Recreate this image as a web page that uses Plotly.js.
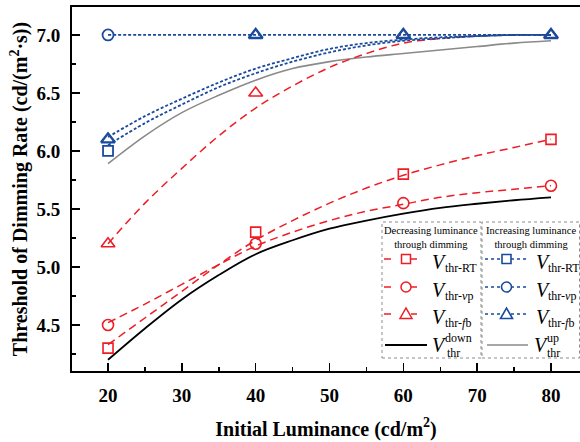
<!DOCTYPE html>
<html>
<head>
<meta charset="utf-8">
<script src="https://cdn.plot.ly/plotly-3.0.1.min.js"></script>
<style>html,body{margin:0;padding:0;background:#fff;}#chart{width:580px;height:442px;}</style>
</head>
<body>
<div id="chart"></div>
<script>
// ---- data ----
const lum = [20, 40, 60, 80];
const decRT = [4.3, 5.3, 5.8, 6.1];
const decVp = [4.5, 5.2, 5.55, 5.7];
const decFb = [5.2, 6.5, 7.0, 7.0];
const incRT = [6.0, null, null, null];   // later points hidden under triangles
const incVp = [7.0, null, null, null];
const incFb = [6.1, 7.0, 7.0, 7.0];

// fitted curves
const fitX      = [20, 25, 30, 35, 40, 45, 50, 55, 60, 65, 70, 75, 80];
const fitDecRT  = [4.33, 4.56, 4.79, 5.02, 5.23, 5.40, 5.55, 5.68, 5.79, 5.88, 5.96, 6.03, 6.10];
const fitDecVp  = [4.52, 4.68, 4.85, 5.02, 5.18, 5.30, 5.40, 5.48, 5.54, 5.60, 5.64, 5.67, 5.70];
const fitDecFb  = [5.20, 5.55, 5.85, 6.13, 6.37, 6.56, 6.72, 6.84, 6.93, 6.97, 6.99, 7.00, 7.00];
const fitIncRT  = [6.05, 6.24, 6.40, 6.55, 6.67, 6.77, 6.85, 6.91, 6.95, 6.97, 6.99, 7.00, 7.00];
const fitIncVp  = [7.00, 7.00, 7.00, 7.00, 7.00, 7.00, 7.00, 7.00, 7.00, 7.00, 7.00, 7.00, 7.00];
const fitIncFb  = [6.12, 6.30, 6.45, 6.59, 6.71, 6.80, 6.88, 6.93, 6.96, 6.98, 6.99, 7.00, 7.00];
const fitDown   = [4.20, 4.47, 4.72, 4.93, 5.11, 5.23, 5.33, 5.40, 5.46, 5.51, 5.545, 5.575, 5.60];
const fitUp     = [5.89, 6.13, 6.33, 6.48, 6.61, 6.71, 6.77, 6.81, 6.84, 6.87, 6.90, 6.93, 6.95];

const yTicks = [4.5, 5.0, 5.5, 6.0, 6.5, 7.0];
const xTicks = [20, 30, 40, 50, 60, 70, 80];

const RED = '#ee1c25', BLUE = '#1a4a9c', GREY = '#8a8a8a', BLACK = '#000000';
const SERIF = '"Liberation Serif", "Times New Roman", serif';
const redDash = '8px,5px', blueDot = '3px,2px';

function fit(y, color, dash, width) {
  return {x: fitX, y: y, mode: 'lines', line: {color: color, dash: dash, width: width, shape: 'spline', smoothing: 1}, hoverinfo: 'skip', showlegend: false};
}
function pts(y, color, symbol, size, lw) {
  return {x: lum, y: y, mode: 'markers', marker: {symbol: symbol, size: size, color: color, line: {color: color, width: lw}}, showlegend: false};
}

const traces = [
  fit(fitDown, BLACK, 'solid', 1.8),
  fit(fitUp, GREY, 'solid', 1.6),
  fit(fitDecRT, RED, redDash, 1.5),
  fit(fitDecVp, RED, redDash, 1.5),
  fit(fitDecFb, RED, redDash, 1.5),
  fit(fitIncRT, BLUE, blueDot, 1.8),
  fit(fitIncVp, BLUE, blueDot, 1.8),
  fit(fitIncFb, BLUE, blueDot, 1.8),
  pts(decRT, RED, 'square-open', 10, 1.6),
  pts(decVp, RED, 'circle-open', 11, 1.6),
  pts(decFb, RED, 'triangle-up-open', 12, 1.6),
  pts(incRT, BLUE, 'square-open', 10, 1.8),
  pts(incVp, BLUE, 'circle-open', 11, 1.8),
  pts(incFb, BLUE, 'triangle-up-open', 12, 2.4)
];

// ---- hand-built legend (pixel -> paper helpers) ----
const L = 72, R = 580, T = 7, B = 371;
const px = x => (x - L) / (R - L);
const py = y => (B - y) / (B - T);
const shapes = [];
const ann = [];
function box(x0, x1, y0, y1) {
  shapes.push({type: 'rect', xref: 'paper', yref: 'paper', x0: px(x0), x1: px(x1), y0: py(y1), y1: py(y0),
    line: {color: '#8c8c8c', width: 1, dash: 'dot'}, fillcolor: 'rgba(255,255,255,1)', layer: 'above'});
}
function seg(x0, x1, y, color, dash, width) {
  shapes.push({type: 'line', xref: 'paper', yref: 'paper', x0: px(x0), x1: px(x1), y0: py(y), y1: py(y),
    line: {color: color, dash: dash, width: width}, layer: 'above'});
}
function mark(kind, cx, cy, color, lw) {
  if (kind === 'sq') {
    shapes.push({type: 'rect', xref: 'paper', yref: 'paper', x0: px(cx - 4.5), x1: px(cx + 4.5), y0: py(cy + 4.5), y1: py(cy - 4.5), line: {color: color, width: lw}, layer: 'above'});
  } else if (kind === 'ci') {
    shapes.push({type: 'circle', xref: 'paper', yref: 'paper', x0: px(cx - 5), x1: px(cx + 5), y0: py(cy + 5), y1: py(cy - 5), line: {color: color, width: lw}, layer: 'above'});
  } else {
    const p = 'M' + px(cx - 6) + ',' + py(cy + 4.5) + ' L' + px(cx + 6) + ',' + py(cy + 4.5) + ' L' + px(cx) + ',' + py(cy - 6) + ' Z';
    shapes.push({type: 'path', xref: 'paper', yref: 'paper', path: p, line: {color: color, width: lw}, layer: 'above'});
  }
}
function txt(text, x, y, size, xanchor) {
  ann.push({text: text, xref: 'paper', yref: 'paper', x: px(x), y: py(y), xanchor: xanchor || 'left', yanchor: 'middle',
    showarrow: false, font: {family: SERIF, size: size, color: '#000'}});
}

box(382, 481, 222, 358);
box(482, 579.5, 222, 358);
ann.push({text: 'Decreasing luminance<br>through dimming', xref: 'paper', yref: 'paper', x: px(431), y: py(237.5), xanchor: 'center', yanchor: 'middle', showarrow: false, align: 'center', font: {family: SERIF, size: 10.5, color: '#000'}});
ann.push({text: 'Increasing luminance<br>through dimming', xref: 'paper', yref: 'paper', x: px(531), y: py(237.5), xanchor: 'center', yanchor: 'middle', showarrow: false, align: 'center', font: {family: SERIF, size: 10.5, color: '#000'}});

const rows = [259, 287, 314];
const kinds = ['sq', 'ci', 'tr'];
const subs = ['thr-RT', 'thr-<i>v</i>p', 'thr-<i>f</i>b'];
rows.forEach((y, i) => {
  seg(384, 391, y, RED, 'solid', 1.5);
  seg(411, 417, y, RED, 'solid', 1.5);
  mark(kinds[i], 406, y, RED, 1.5);
  txt('<i>V</i>', 430, y + 3, 20);
  txt(subs[i], 443, y + 9, 12);
  seg(485, 502, y, BLUE, 'dot', 1.6);
  seg(511, 528, y, BLUE, 'dot', 1.6);
  mark(kinds[i], 506.5, y, BLUE, 1.6);
  txt('<i>V</i>', 534, y + 3, 20);
  txt(subs[i], 546, y + 9, 12);
});
seg(385, 427, 345, BLACK, 'solid', 2);
txt('<i>V</i>', 430, 345, 20);
txt('down', 443, 338, 12);
txt('thr', 445, 353, 12);
seg(487, 528, 345, GREY, 'solid', 1.6);
txt('<i>V</i>', 532, 345, 20);
txt('up', 545, 338, 12);
txt('thr', 545, 353, 12);

const axisFont = {family: SERIF, size: 19, color: '#000', weight: 'bold'};
const layout = {
  width: 580, height: 442,
  margin: {l: L, r: 580 - R, t: T, b: 442 - B, pad: 0},
  paper_bgcolor: '#fff', plot_bgcolor: '#fff',
  showlegend: false,
  xaxis: {
    range: [15.12, 83.93], tickvals: xTicks, ticktext: xTicks.map(String),
    ticks: 'inside', ticklen: 8, tickwidth: 1.5, tickcolor: '#000',
    minor: {tickvals: [25, 35, 45, 55, 65, 75], ticks: 'inside', ticklen: 4, tickwidth: 1.5, tickcolor: '#000', showgrid: false},
    showline: true, linecolor: '#000', linewidth: 2, mirror: true, showgrid: false, zeroline: false,
    tickfont: axisFont, ticklabelstandoff: 6, automargin: false,
    title: {text: 'Initial Luminance (cd/m<sup>2</sup>)', font: {family: SERIF, size: 20, color: '#000', weight: 'bold'}, standoff: 17}
  },
  yaxis: {
    range: [4.103, 7.241], tickvals: yTicks, ticktext: yTicks.map(v => v.toFixed(1)),
    ticks: 'inside', ticklen: 8, tickwidth: 1.5, tickcolor: '#000',
    minor: {tickvals: [4.25, 4.75, 5.25, 5.75, 6.25, 6.75], ticks: 'inside', ticklen: 4, tickwidth: 1.5, tickcolor: '#000', showgrid: false},
    showline: true, linecolor: '#000', linewidth: 2, mirror: false, showgrid: false, zeroline: false,
    tickfont: axisFont, ticklabelstandoff: 6, automargin: false,
    title: {text: 'Threshold of Dimming Rate (cd/(m<sup>2</sup>·s))', font: {family: SERIF, size: 20, color: '#000', weight: 'bold'}, standoff: 3}
  },
  shapes: shapes,
  annotations: ann
};

Plotly.newPlot('chart', traces, layout, {staticPlot: true, displayModeBar: false});
</script>
</body>
</html>
